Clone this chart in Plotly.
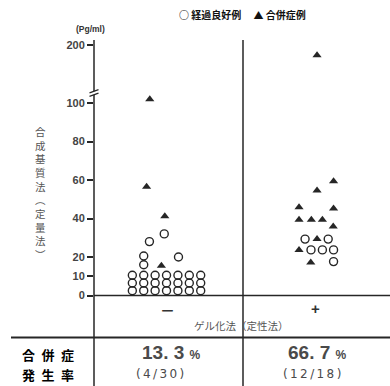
import plotly.graph_objects as go

# Synthetic substrate assay (quantitative, pg/ml) split by gel clotting result (qualitative)
# col = stacking column of each dot within its group
neg_good_col = [-3, -3, -3, -2, -2, -2, -2, -2, -1, -1, -1, 0, 0, 0,
                1, 1, 1, 2, 2, 2, 3, 3, 3, -1.5, -0.2, 1.05]
neg_good_val = [2.5, 6.5, 10.5, 2.5, 6.5, 10.5, 16, 20.5, 2.5, 6.5, 10.5, 2.5, 6.5, 10.5,
                2.5, 6.5, 10.5, 2.5, 6.5, 10.5, 2.5, 6.5, 10.5, 28, 32, 20]
neg_comp_col = [-1.47, -1.75, -0.15, -0.45]
neg_comp_val = [102, 56.5, 41.2, 15.5]

pos_good_col = [-1.05, 0.98, -0.53, 0.47, 1.45, 1.45]
pos_good_val = [29.3, 29.3, 23.7, 23.7, 23.7, 17.6]
pos_comp_col = [0, 1.45, 0, -1.58, 1.45, -1.58, -0.5, 0.47, 1.42, 0, -1.58, -0.55]
pos_comp_val = [180, 59.3, 54.6, 45.8, 45.2, 39.4, 39.4, 39.4, 35.9, 29.3, 23.7, 17.1]

tick_values = [0, 10, 20, 40, 60, 80, 100, 200]
tick_labels = ["0", "10", "20", "40", "60", "80", "100", "200"]

group_labels = ["－", "+"]
rate_text = ["13. 3", "66. 7"]
rate_frac = ["(4/30)", "(12/18)"]

W, H = 390, 386
AX_X = 94          # y-axis position (px)
SEP_X = 243        # group separator (px)
ZERO_Y = 295.5     # baseline (px)
PX_PER_UNIT = 1.925
BREAK = 105
UPPER_SCALE = 0.264

GROUP_CENTER = {0: 0.49, 1: 1.507}
COL_STEP = 0.077


def disp(v):
    """Map a value onto the broken axis (compressed above the break)."""
    return v if v <= BREAK else BREAK + (v - BREAK) * UPPER_SCALE


def xs(group, cols):
    return [GROUP_CENTER[group] + c * COL_STEP for c in cols]


INK = "#262626"
circle = dict(symbol="circle-open", size=8, color=INK, line=dict(width=1.4, color=INK))
tri = dict(symbol="triangle-up", size=8, color=INK, line=dict(width=0))

fig = go.Figure()
fig.add_trace(go.Scatter(x=xs(0, neg_good_col), y=[disp(v) for v in neg_good_val],
                         mode="markers", marker=circle, hoverinfo="y"))
fig.add_trace(go.Scatter(x=xs(1, pos_good_col), y=[disp(v) for v in pos_good_val],
                         mode="markers", marker=circle, hoverinfo="y"))
fig.add_trace(go.Scatter(x=xs(0, neg_comp_col), y=[disp(v) for v in neg_comp_val],
                         mode="markers", marker=tri, hoverinfo="y"))
fig.add_trace(go.Scatter(x=xs(1, pos_comp_col), y=[disp(v) for v in pos_comp_val],
                         mode="markers", marker=tri, hoverinfo="y"))

y_lo = -(H - ZERO_Y) / PX_PER_UNIT
y_hi = ZERO_Y / PX_PER_UNIT


def px(x):
    return x / W


def py(y):
    return 1 - y / H


shapes = []


def line(x0, y0, x1, y1, w=1.5, color=INK):
    shapes.append(dict(type="line", xref="paper", yref="paper",
                       x0=px(x0), y0=py(y0), x1=px(x1), y1=py(y1),
                       line=dict(color=color, width=w)))


line(AX_X, 40, AX_X, H)            # y axis
line(SEP_X, 40, SEP_X, H)          # group separator
line(AX_X, ZERO_Y, W, ZERO_Y)      # baseline
line(11, 337.5, W, 337.5, w=1.8)   # table rule
# axis break
shapes.append(dict(type="rect", xref="paper", yref="paper",
                   x0=px(AX_X - 2), x1=px(AX_X + 2), y0=py(95), y1=py(91.2),
                   fillcolor="white", line=dict(width=0)))
line(89.5, 92.8, 98.5, 89.6, w=1.3)
line(89.5, 96.4, 98.5, 93.2, w=1.3)

JP = "Noto Sans CJK JP"
LAT = "Liberation Sans"
ann = []


def text(x, y, s, size, color=INK, family=JP, weight="bold", **kw):
    ann.append(dict(x=px(x), y=py(y), xref="paper", yref="paper", text=s,
                    showarrow=False, xanchor="center", yanchor="middle",
                    font=dict(family=family, size=size, color=color, weight=weight), **kw))


text(90, 28.5, "(Pg/ml)", 8.5, family=LAT, color="#333")
text(242, 14, "○ 経過良好例\u3000 ▲ 合併症例", 10, color="#111")
text(40, 193, "<br>".join("合成基質法︵定量法︶"), 10.5, color="#555", weight="normal")
text(167, 309, group_labels[0], 15, color="#333")
text(315, 308, group_labels[1], 15, color="#333", family=LAT)
text(241, 325, "ゲル化法（定性法）", 10.5, color="#555", weight="normal")
text(48, 354.5, "合\u2002併\u2002症", 13, color="#000")
text(48, 374, "発\u2002生\u2002率", 13, color="#000")
text(171.5, 352, rate_text[0] + " <span style='font-size:12px'>%</span>", 19,
     color="#4a4a4a", family=LAT)
text(317, 352, rate_text[1] + " <span style='font-size:12px'>%</span>", 19,
     color="#4a4a4a", family=LAT)
text(160, 374, "\u2009".join(rate_frac[0]), 12, color="#4a4a4a", family="DejaVu Sans",
     weight="normal")
text(312, 374, "\u2009".join(rate_frac[1]), 12, color="#4a4a4a", family="DejaVu Sans",
     weight="normal")

fig.update_layout(
    width=W, height=H, margin=dict(l=0, r=0, t=0, b=0),
    paper_bgcolor="white", plot_bgcolor="white", showlegend=False,
    shapes=shapes, annotations=ann,
    xaxis=dict(domain=[px(AX_X), 1], range=[0, 2], visible=False, fixedrange=True),
    yaxis=dict(range=[y_lo, y_hi], domain=[0, 1],
               tickvals=[disp(v) for v in tick_values], ticktext=tick_labels,
               ticks="outside", ticklen=6, tickwidth=1.5, tickcolor=INK,
               tickfont=dict(family=LAT, size=11, color="#444", weight="bold"),
               showgrid=False, zeroline=False, showline=False, fixedrange=True),
)

fig.write_html("out.html")
